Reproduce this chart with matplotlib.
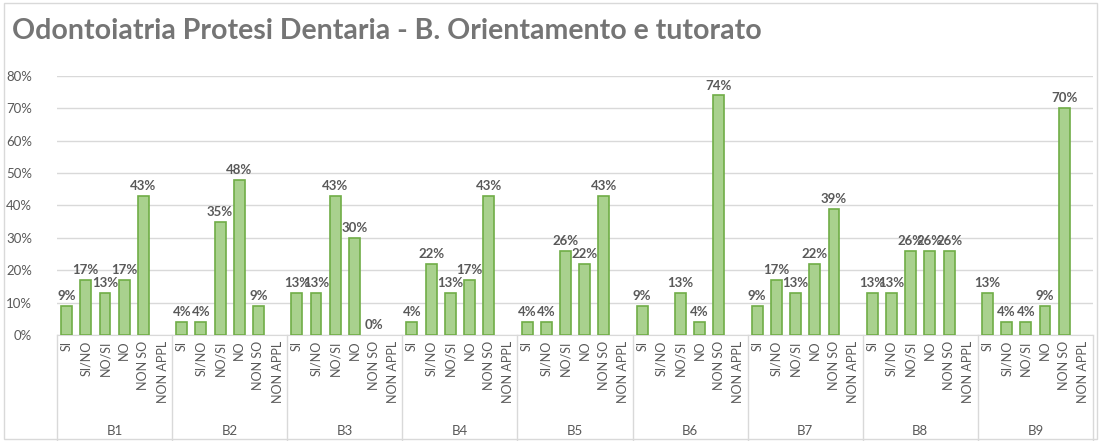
import numpy as np
import matplotlib.pyplot as plt
from matplotlib.patches import Rectangle

plt.rcParams['font.family'] = ['Lato', 'DejaVu Sans']

groups = ['B1', 'B2', 'B3', 'B4', 'B5', 'B6', 'B7', 'B8', 'B9']
answers = ['SI', 'SI/NO', 'NO/SI', 'NO', 'NON SO', 'NON APPL']

# percent values, None = empty (no bar, no label)
b1 = [9, 17, 13, 17, 43, None]
b2 = [4, 4, 35, 48, 9, None]
b3 = [13, 13, 43, 30, 0, None]
b4 = [4, 22, 13, 17, 43, None]
b5 = [4, 4, 26, 22, 43, None]
b6 = [9, None, 13, 4, 74, None]
b7 = [9, 17, 13, 22, 39, None]
b8 = [13, 13, 26, 26, 26, None]
b9 = [13, 4, 4, 9, 70, None]
values = [b1, b2, b3, b4, b5, b6, b7, b8, b9]

grey = '#595959'
fig = plt.figure(figsize=(11.01, 4.41), dpi=100)
fig.patches.append(Rectangle((0.004, 0.004), 0.992, 0.99, transform=fig.transFigure,
                             fill=False, edgecolor='#d9d9d9', linewidth=1))
ax = fig.add_axes([0.0518, 0.2404, 0.9409, 0.5873])

n = len(answers)
x = np.arange(len(groups) * n)
flat = [v for g in values for v in g]
bx = [xi for xi, v in zip(x, flat) if v]
bh = [v / 100 for v in flat if v]
ax.bar(bx, bh, width=0.57, color='#a9d18e', edgecolor='#70ad47', linewidth=1.2, zorder=3)

for xi, v in zip(x, flat):
    if v is None:
        continue
    ax.text(xi, v / 100 + 0.012, f'{v}%', ha='center', va='bottom',
            fontsize=9.5, fontweight='bold', color=grey, zorder=4)

ax.set_xlim(-0.5, len(x) - 0.5)
ax.set_ylim(0, 0.8)
ax.set_yticks(np.arange(0, 0.81, 0.1))
ax.set_yticklabels([f'{int(round(t * 100))}%' for t in np.arange(0, 0.81, 0.1)])
ax.yaxis.grid(True, color='#d9d9d9', linewidth=1, zorder=0)
ax.set_xticks(x)
ax.set_xticklabels(answers * len(groups), rotation=90, fontsize=9, color=grey)
ax.tick_params(axis='x', length=0, pad=4)
ax.tick_params(axis='y', length=0, labelsize=9.5, labelcolor=grey, pad=18)
for s in ['top', 'right', 'left']:
    ax.spines[s].set_visible(False)
ax.spines['bottom'].set_color('#d9d9d9')

trans = ax.get_xaxis_transform()
for i in range(len(groups) + 1):
    ax.plot([i * n - 0.5, i * n - 0.5], [0, -0.41], color='#d9d9d9', linewidth=1,
            transform=trans, clip_on=False)
for i, g in enumerate(groups):
    ax.text(i * n + (n - 1) / 2, -0.37, g, ha='center', va='center', fontsize=9.5,
            color=grey, transform=trans)

fig.text(0.011, 0.93, 'Odontoiatria Protesi Dentaria - B. Orientamento e tutorato',
         fontsize=20.5, fontweight='bold', color='#757575', ha='left', va='center')

fig.savefig('out.png', dpi=100)
